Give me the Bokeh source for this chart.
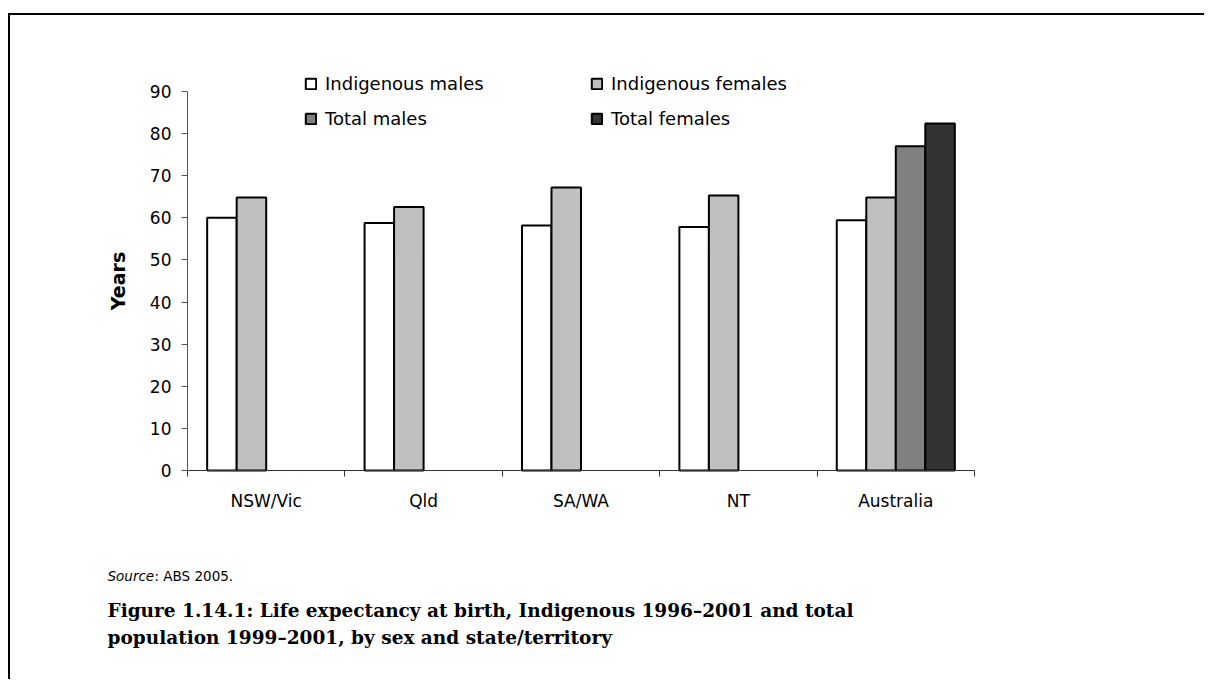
import numpy as np
from bokeh.plotting import figure
from bokeh.models import (Range1d, LinearAxis, FixedTicker, Legend,
                          LegendItem, Label, ColumnDataSource)
from bokeh.transform import dodge
from bokeh.embed import file_html
from bokeh.resources import INLINE

# ---- data ----
categories = ["NSW/Vic", "Qld", "SA/WA", "NT", "Australia"]
indigenous_males = [60.0, 58.8, 58.2, 57.8, 59.4]
indigenous_females = [64.8, 62.6, 67.2, 65.3, 64.8]
total_males = [np.nan, np.nan, np.nan, np.nan, 77.0]
total_females = [np.nan, np.nan, np.nan, np.nan, 82.4]
series_names = ["Indigenous males", "Indigenous females", "Total males", "Total females"]
y_ticks = [0, 10, 20, 30, 40, 50, 60, 70, 80, 90]
y_max = 90

source_text = "Source"
source_rest = ": ABS 2005."
title_line1 = "Figure 1.14.1: Life expectancy at birth, Indigenous 1996\u20132001 and total"
title_line2 = "population 1999\u20132001, by sex and state/territory"

n = len(categories)
centres = np.arange(n) + 0.5          # category slot centres on a 0..n axis

src = ColumnDataSource(dict(
    pos=centres,
    cat=categories,
    im=np.array(indigenous_males, dtype=float),
    if_=np.array(indigenous_females, dtype=float),
    tm=np.array(total_males, dtype=float),
    tf=np.array(total_females, dtype=float),
))

# ---- layout (pixels inside the figure) ----
W, H = 1196, 666
AX_L, AX_R = 177, 964      # x of category axis start/end
AX_B, AX_T = 455, 76       # y of value 0 and value 90
xpx = (AX_R - AX_L) / n
ypx = (AX_B - AX_T) / y_max
x_range = Range1d(-AX_L / xpx, n + (W - AX_R) / xpx)
y_range = Range1d(-(H - AX_B) / ypx, y_max + AX_T / ypx)

p = figure(width=W, height=H, x_range=x_range, y_range=y_range,
           x_axis_location=None, y_axis_location=None,
           toolbar_location=None, output_backend="svg",
           min_border_left=0, min_border_right=0,
           min_border_top=0, min_border_bottom=0)
p.outline_line_color = None
p.grid.visible = False
p.background_fill_color = "white"
p.border_fill_color = "white"
p.styles = {"border-top": "2px solid black", "border-left": "2px solid black",
            "margin-top": "13px", "margin-left": "8px"}

bw = 0.1875
fields = ["im", "if_", "tm", "tf"]
colors = ["#FFFFFF", "#C0C0C0", "#808080", "#333333"]
offsets = [-1.5 * bw, -0.5 * bw, 0.5 * bw, 1.5 * bw]
renderers = []
for f, c, off in zip(fields, colors, offsets):
    r = p.vbar(x=dodge("pos", off), top=f, bottom=0, width=bw,
               source=src, fill_color=c, line_color="black", line_width=2)
    renderers.append(r)

# x axis: labels at category centres, ticks at category boundaries
xaxis = LinearAxis(fixed_location=0, bounds=(0, n),
                   ticker=FixedTicker(ticks=list(centres),
                                      minor_ticks=list(range(n + 1))),
                   major_label_overrides={float(c): lab for c, lab in zip(centres, categories)},
                   major_tick_out=0, major_tick_in=0,
                   minor_tick_out=6, minor_tick_in=0,
                   minor_tick_line_color="#333333",
                   axis_line_color="#333333", axis_line_width=1,
                   major_label_standoff=14,
                   major_label_text_font="DejaVu Sans",
                   major_label_text_font_size="17px",
                   major_label_text_color="black")
p.add_layout(xaxis, "below")

yaxis = LinearAxis(fixed_location=0, bounds=(0, y_max),
                   ticker=FixedTicker(ticks=y_ticks, minor_ticks=[]),
                   axis_label="Years",
                   axis_label_text_font="DejaVu Sans",
                   axis_label_text_font_style="bold",
                   axis_label_text_font_size="19px",
                   axis_label_text_color="black",
                   axis_label_standoff=18,
                   major_tick_out=6, major_tick_in=0,
                   major_tick_line_color="#555555",
                   axis_line_color="#555555", axis_line_width=1,
                   major_label_standoff=10,
                   major_label_text_font="DejaVu Sans",
                   major_label_text_font_size="17px",
                   major_label_text_color="black")
p.add_layout(yaxis, "left")

def make_legend(items, loc):
    return Legend(items=items, location=loc, orientation="vertical",
                  glyph_width=13, glyph_height=13, label_standoff=8,
                  spacing=13, padding=0, margin=0, label_height=22,
                  label_text_font="DejaVu Sans", label_text_font_size="18px",
                  label_text_color="black",
                  border_line_color=None, background_fill_alpha=0)

leg1 = make_legend([LegendItem(label=series_names[0], renderers=[renderers[0]]),
                    LegendItem(label=series_names[2], renderers=[renderers[2]])],
                   (294, H - 114))
leg2 = make_legend([LegendItem(label=series_names[1], renderers=[renderers[1]]),
                    LegendItem(label=series_names[3], renderers=[renderers[3]])],
                   (580, H - 114))
p.add_layout(leg1)
p.add_layout(leg2)

common = dict(x_units="screen", y_units="screen", text_baseline="middle",
              text_color="black")
p.add_layout(Label(x=97, y=H - 560, text=source_text, text_font="DejaVu Sans",
                   text_font_style="italic", text_font_size="13.5px", **common))
p.add_layout(Label(x=144, y=H - 560, text=source_rest, text_font="DejaVu Sans",
                   text_font_size="13.5px", **common))
p.add_layout(Label(x=97, y=H - 595, text=title_line1, text_font="DejaVu Serif",
                   text_font_style="bold", text_font_size="18.5px", **common))
p.add_layout(Label(x=97, y=H - 622, text=title_line2, text_font="DejaVu Serif",
                   text_font_style="bold", text_font_size="18.5px", **common))

open("out.html", "w").write(file_html(p, INLINE))
